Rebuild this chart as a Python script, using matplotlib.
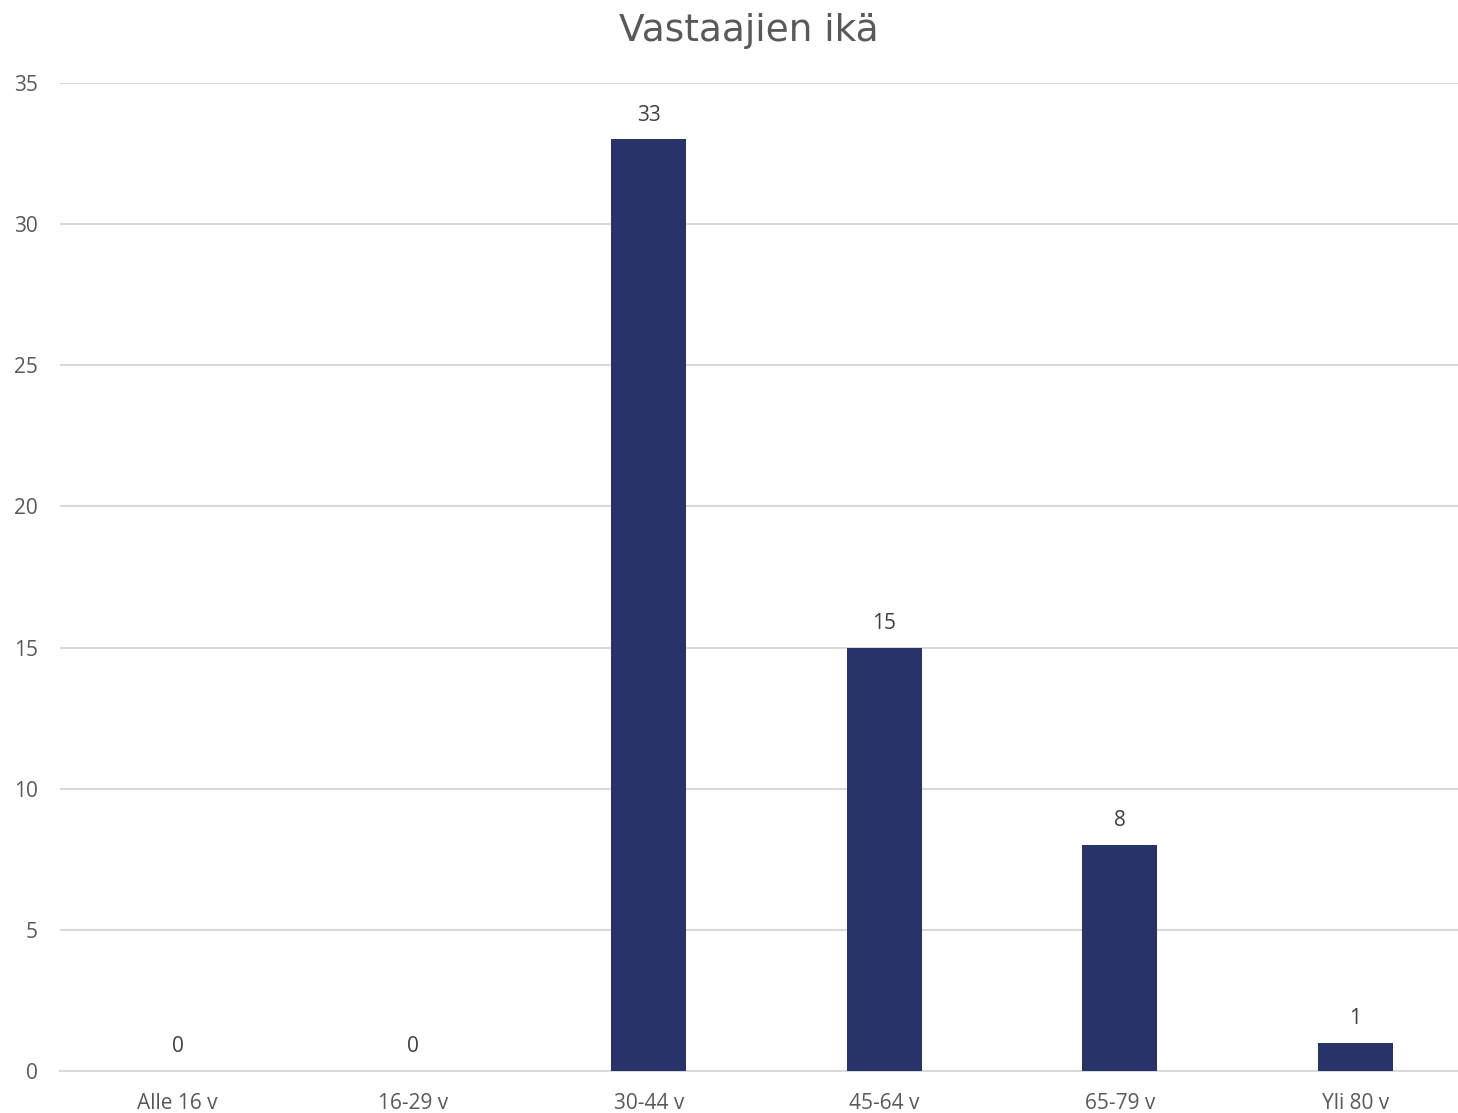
import matplotlib.pyplot as plt

categories = ["Alle 16 v", "16-29 v", "30-44 v", "45-64 v", "65-79 v", "Yli 80 v"]
counts = [0, 0, 33, 15, 8, 1]
yticks = [0, 5, 10, 15, 20, 25, 30, 35]

fig = plt.figure(figsize=(14.58, 11.13), dpi=100)
ax = fig.add_axes([60 / 1458, 42 / 1113, 1413 / 1458, 988 / 1113])

x = range(len(categories))
bars = ax.bar(x, counts, width=0.32, color="#283369", zorder=3)

# value labels above bars
for xi, v in zip(x, counts):
    ax.annotate(str(v), (xi, v), xytext=(0, 10), textcoords="offset points",
                ha="center", va="bottom", fontsize=15, color="#404040",
                family="Open Sans")

ax.set_xlim(-0.5, len(categories) - 0.5)
ax.set_ylim(0, 35)
ax.set_yticks(yticks)
ax.set_xticks(list(x))
ax.set_xticklabels(categories)
ax.grid(axis="y", color="#d9d9d9", linewidth=1.5, zorder=0)
for s in ["top", "right", "left"]:
    ax.spines[s].set_visible(False)
ax.spines["bottom"].set_color("#d9d9d9")
ax.spines["bottom"].set_linewidth(1.5)
ax.tick_params(length=0, labelsize=15, labelcolor="#595959")
ax.tick_params(axis="y", pad=16)
ax.tick_params(axis="x", pad=16)
for lab in ax.get_xticklabels() + ax.get_yticklabels():
    lab.set_family("Open Sans")

fig.text(749 / 1458, 1 - 31 / 1113, "Vastaajien ikä", ha="center", va="center",
         fontsize=27, color="#595959", family="DejaVu Sans")

fig.savefig("out.png", dpi=100)
